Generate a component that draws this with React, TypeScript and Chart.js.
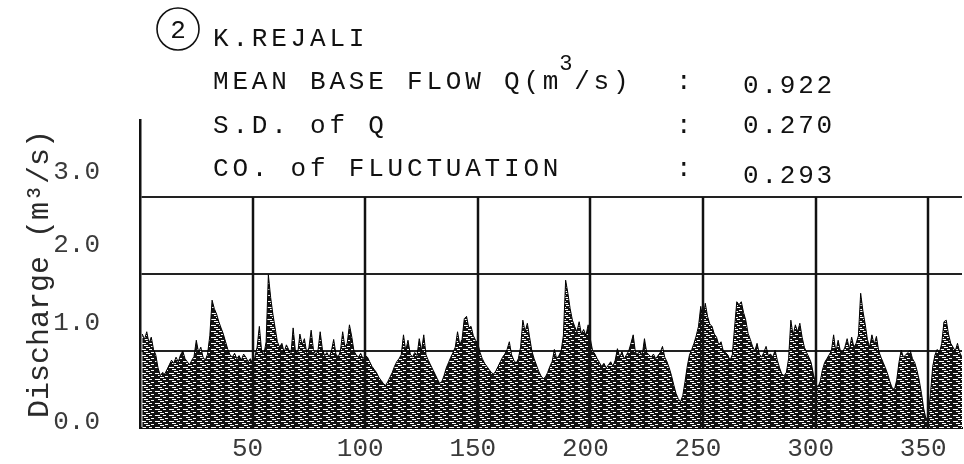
import React, { useEffect, useRef } from 'react';
import { Chart, registerables } from 'chart.js';

Chart.register(...registerables);

// ---- DATA ----
// Daily discharge (m3/s), day 1..365
const discharge: number[] = [
  1.22, 1.15, 1.25, 1.10, 1.18, 1.02, 0.95, 0.78, 0.68, 0.72,
  0.70, 0.76, 0.82, 0.88, 0.84, 0.92, 0.86, 0.95, 1.00, 0.90,
  0.86, 0.82, 0.88, 0.93, 1.14, 0.98, 1.05, 0.92, 0.88, 0.96,
  1.20, 1.66, 1.55, 1.48, 1.38, 1.30, 1.22, 1.12, 1.02, 0.95,
  0.92, 0.97, 0.90, 0.94, 0.88, 0.96, 0.92, 0.86, 0.90, 0.84,
  0.92, 1.05, 1.32, 1.00, 0.95, 1.12, 1.99, 1.70, 1.48, 1.30,
  1.12, 1.05, 1.10, 0.98, 1.08, 1.02, 0.95, 1.30, 1.00, 0.96,
  1.22, 1.08, 1.16, 0.98, 1.04, 1.27, 1.02, 0.95, 1.00, 1.25,
  1.02, 0.94, 0.98, 0.92, 1.00, 1.15, 0.96, 0.92, 1.00, 1.25,
  1.05, 1.10, 1.34, 1.19, 1.00, 0.95, 0.92, 0.97, 0.90, 0.94,
  0.92, 0.86, 0.80, 0.76, 0.72, 0.66, 0.62, 0.58, 0.55, 0.60,
  0.66, 0.72, 0.80, 0.86, 0.90, 0.95, 1.21, 1.00, 1.14, 0.96,
  0.92, 0.98, 0.94, 1.16, 1.00, 1.21, 0.95, 0.88, 0.82, 0.76,
  0.70, 0.64, 0.58, 0.60, 0.68, 0.78, 0.85, 0.92, 0.98, 1.05,
  1.25, 1.08, 1.15, 1.42, 1.45, 1.30, 1.32, 1.20, 1.14, 1.10,
  0.98, 0.90, 0.84, 0.80, 0.76, 0.72, 0.70, 0.74, 0.80, 0.86,
  0.92, 0.96, 1.02, 1.12, 0.95, 0.88, 0.84, 0.90, 1.05, 1.40,
  1.25, 1.36, 1.18, 1.00, 0.90, 0.82, 0.74, 0.68, 0.64, 0.66,
  0.72, 0.80, 0.86, 1.02, 0.90, 0.94, 1.00, 1.20, 1.92, 1.75,
  1.55, 1.40, 1.32, 1.25, 1.38, 1.22, 1.28, 1.20, 1.34, 1.15,
  1.00, 0.96, 0.90, 0.85, 0.80, 0.84, 0.78, 0.82, 0.86, 0.80,
  0.88, 1.03, 0.92, 0.99, 0.90, 0.95, 1.00, 1.10, 1.21, 0.98,
  0.96, 1.00, 0.94, 1.16, 0.98, 0.95, 0.92, 0.96, 0.90, 0.94,
  0.98, 1.06, 0.92, 0.86, 0.78, 0.68, 0.56, 0.45, 0.38, 0.34,
  0.42, 0.60, 0.80, 0.95, 1.02, 1.10, 1.20, 1.32, 1.58, 1.40,
  1.62, 1.45, 1.35, 1.32, 1.22, 1.18, 1.08, 1.12, 1.00, 0.98,
  0.95, 0.88, 0.95, 1.30, 1.64, 1.60, 1.64, 1.50, 1.40, 1.23,
  1.15, 1.06, 1.00, 1.10, 0.96, 0.92, 0.98, 1.06, 0.94, 0.96,
  0.92, 1.01, 0.88, 0.78, 0.70, 0.68, 0.72, 0.90, 1.40, 1.20,
  1.34, 1.25, 1.36, 1.18, 1.05, 0.98, 0.92, 0.85, 0.70, 0.58,
  0.53, 0.60, 0.75, 0.85, 0.90, 0.95, 1.00, 1.21, 0.98, 1.14,
  1.00, 0.98, 1.05, 1.16, 1.02, 1.18, 1.05, 1.10, 1.20, 1.75,
  1.52, 1.35, 1.15, 1.05, 1.21, 1.08, 1.19, 1.00, 0.92, 0.85,
  0.78, 0.70, 0.60, 0.52, 0.50, 0.62, 0.85, 1.01, 0.92, 0.95,
  0.98, 1.01, 0.90, 0.85, 0.75, 0.62, 0.45, 0.25, 0.12, 0.15,
  0.45, 0.80, 0.95, 1.02, 0.98, 1.10, 1.38, 1.40, 1.22, 1.10,
  1.05, 1.00, 1.10, 0.98, 0.92,
];

const yTickLabels: string[] = ['0.0', '1.0', '2.0', '3.0'];
const xTickStep = 50;
const stationNumber = '2';
const stationName = 'K.REJALI';
const statLabels: string[] = ['MEAN BASE FLOW Q(m', 'S.D. of Q', 'CO. of FLUCTUATION'];
const statValues: string[] = ['0.922', '0.270', '0.293'];
const yTitle = 'Discharge (m³/s)';

// ---- LAYOUT / STYLE (not data) ----
const W = 964;
const H = 464;
const MONO = '"Liberation Mono", "DejaVu Sans Mono", monospace';
const yLabelPositions = [0.08, 1.36, 2.38, 3.32];

function drawSpaced(ctx: CanvasRenderingContext2D, text: string, x: number, y: number, pitch: number) {
  for (let i = 0; i < text.length; i++) {
    ctx.fillText(text[i], x + i * pitch, y);
  }
}

const headerPlugin = {
  id: 'header',
  afterDraw(chart: any) {
    const ctx: CanvasRenderingContext2D = chart.ctx;
    ctx.save();
    ctx.fillStyle = '#111';
    ctx.strokeStyle = '#111';
    ctx.textBaseline = 'alphabetic';
    ctx.textAlign = 'left';
    // circled number
    ctx.lineWidth = 1.6;
    ctx.beginPath();
    ctx.arc(178, 29, 21, 0, Math.PI * 2);
    ctx.stroke();
    ctx.font = `26px ${MONO}`;
    ctx.textAlign = 'center';
    ctx.fillText(stationNumber, 178, 38);
    ctx.textAlign = 'left';
    const pitch = 19.4;
    drawSpaced(ctx, stationName, 213, 46, pitch);
    const rows = [89, 133, 176];
    const valRows = [93, 133, 183];
    statLabels.forEach((s, i) => {
      drawSpaced(ctx, s, 213, rows[i], pitch);
      drawSpaced(ctx, ':', 676, rows[i], pitch);
      drawSpaced(ctx, statValues[i], 743, valRows[i], 18.4);
    });
    // superscript and rest of unit
    const after = 213 + statLabels[0].length * pitch;
    ctx.font = `22px ${MONO}`;
    ctx.fillText('3', after - 3, 70);
    ctx.font = `26px ${MONO}`;
    drawSpaced(ctx, '/s)', after + 12, rows[0], pitch);
    ctx.restore();
  },
};

const vgridPlugin = {
  id: 'vgrid',
  afterDatasetsDraw(chart: any) {
    const { ctx, scales } = chart;
    const x = scales.x;
    const y = scales.y;
    const top = y.getPixelForValue(3);
    const bottom = y.getPixelForValue(0);
    ctx.save();
    ctx.strokeStyle = '#111';
    ctx.lineWidth = 2.5;
    x.ticks.forEach((t: any) => {
      if (t.value <= 0) return;
      const px = Math.round(x.getPixelForValue(t.value));
      ctx.beginPath();
      ctx.moveTo(px, top);
      ctx.lineTo(px, bottom);
      ctx.stroke();
    });
    ctx.restore();
  },
};

function makePattern(ctx: CanvasRenderingContext2D): CanvasPattern | string {
  const tile = document.createElement('canvas');
  tile.width = 14;
  tile.height = 6;
  const t = tile.getContext('2d');
  if (!t) return '#222';
  t.fillStyle = '#121212';
  t.fillRect(0, 0, 14, 6);
  t.fillStyle = '#ffffff';
  t.fillRect(1, 1, 5, 1);
  t.fillRect(9, 1, 3, 1);
  t.fillRect(4, 3, 4, 1);
  t.fillRect(11, 4, 3, 1);
  t.fillRect(6, 5, 4, 1);
  const p = ctx.createPattern(tile, 'repeat');
  return p || '#222';
}

export default function App() {
  const ref = useRef<HTMLCanvasElement | null>(null);
  useEffect(() => {
    const canvas = ref.current;
    if (!canvas) return;
    const ctx2d = canvas.getContext('2d') as CanvasRenderingContext2D;
    const pattern = makePattern(ctx2d);
    const points = discharge.map((v, i) => ({ x: i + 1, y: v }));
    const chart = new Chart(canvas, {
      type: 'line',
      data: {
        datasets: [
          {
            data: points,
            borderColor: '#000',
            borderWidth: 1,
            backgroundColor: pattern as any,
            fill: 'origin',
            pointRadius: 0,
            tension: 0,
            xAxisID: 'x',
            yAxisID: 'y',
          },
        ],
      },
      options: {
        animation: false,
        responsive: false,
        events: [],
        layout: { padding: { top: 120, right: 2, left: 0, bottom: 0 } },
        plugins: { legend: { display: false }, tooltip: { enabled: false }, title: { display: false } },
        scales: {
          x: {
            type: 'linear',
            min: 0,
            max: 365,
            position: 'bottom',
            grid: { display: false, drawTicks: false },
            border: { display: true, color: '#111', width: 2 },
            ticks: {
              stepSize: xTickStep,
              includeBounds: false,
              autoSkip: false,
              maxRotation: 0,
              padding: 6,
              labelOffset: -5,
              color: '#3a3a3a',
              font: { family: MONO, size: 26 },
              callback: (v: any) => (Number(v) === 0 ? '' : String(v)),
            },
            afterFit: (s: any) => {
              s.height = 36;
              s.paddingLeft = 0;
              s.paddingRight = 0;
            },
          },
          y: {
            type: 'linear',
            min: 0,
            max: 4,
            position: 'left',
            weight: 0,
            ticks: { display: false, stepSize: 1 },
            grid: {
              drawTicks: false,
              lineWidth: 2,
              color: (c: any) =>
                c.tick && c.tick.value > 0 && c.tick.value < 4 ? '#222' : 'rgba(0,0,0,0)',
            },
            border: { display: true, color: '#111', width: 2.5 },
            afterFit: (s: any) => {
              s.width = 0;
              s.paddingTop = 0;
              s.paddingBottom = 0;
            },
          },
          yl: {
            type: 'linear',
            min: 0,
            max: 4,
            position: 'left',
            weight: 1,
            grid: { display: false, drawTicks: false },
            border: { display: false },
            afterBuildTicks: (s: any) => {
              s.ticks = yLabelPositions.map((v) => ({ value: v }));
            },
            ticks: {
              autoSkip: false,
              padding: 40,
              color: '#3a3a3a',
              font: { family: MONO, size: 26 },
              callback: (_v: any, i: number) => yTickLabels[i],
            },
            title: {
              display: true,
              text: yTitle,
              color: '#2a2a2a',
              font: { family: MONO, size: 30 },
              padding: { top: 22, bottom: 0 },
            },
            afterFit: (s: any) => {
              s.width = 140;
              s.paddingTop = 0;
              s.paddingBottom = 0;
            },
          },
        },
      } as any,
      plugins: [vgridPlugin, headerPlugin],
    });
    return () => chart.destroy();
  }, []);
  return (
    <div style={{ position: 'fixed', left: 0, top: 0, width: W, height: H, background: '#fff' }}>
      <canvas ref={ref} width={W} height={H} style={{ display: 'block', width: W, height: H }} />
    </div>
  );
}
